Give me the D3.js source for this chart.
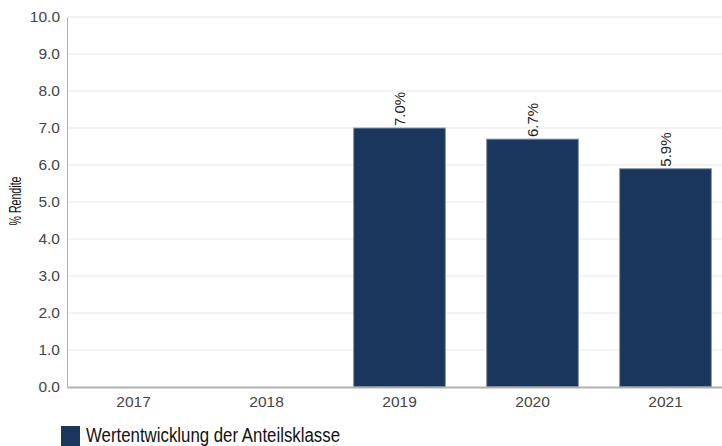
<!DOCTYPE html>
<html>
<head>
<meta charset="utf-8">
<script src="https://cdn.jsdelivr.net/npm/d3@7"></script>
<style>
  body { margin: 0; background: #fff; }
  svg { display: block; }
  text { font-family: "Liberation Sans", Arial, sans-serif; }
</style>
</head>
<body>
<svg id="chart" width="722" height="446"></svg>
<script>
var years = ["2017", "2018", "2019", "2020", "2021"];
var rendite = [null, null, 7.0, 6.7, 5.9];
var yTicks = [0, 1, 2, 3, 4, 5, 6, 7, 8, 9, 10];
var seriesName = "Wertentwicklung der Anteilsklasse";

var svg = d3.select("#chart"),
    plotLeft = 67, plotRight = 732, plotTop = 17, plotBottom = 387;

var x = d3.scaleBand().domain(years).range([plotLeft, plotRight]).paddingInner(0.31).paddingOuter(0.155);
var y = d3.scaleLinear().domain([0, 10]).range([plotBottom, plotTop]);

// grid
svg.append("g").selectAll("line")
   .data(yTicks.slice(1))
   .enter().append("line")
   .attr("x1", plotLeft).attr("x2", plotRight)
   .attr("y1", function(d) { return y(d); })
   .attr("y2", function(d) { return y(d); })
   .attr("stroke", "#e8e8e8");

// y axis
var yAxis = svg.append("g")
   .attr("transform", "translate(" + plotLeft + ",0)")
   .call(d3.axisLeft(y).tickValues(yTicks).tickFormat(d3.format(".1f")).tickSize(0).tickPadding(7));
yAxis.select(".domain").attr("stroke", "#b0b0b0");
yAxis.selectAll("text")
   .style("font-family", "'Liberation Sans', Arial, sans-serif")
   .style("font-size", "15.5px")
   .attr("fill", "#444");

// bars
var data = years.map(function(d, i) { return { year: d, value: rendite[i] }; })
                .filter(function(d) { return d.value != null; });

svg.append("g").selectAll("rect")
   .data(data)
   .enter().append("rect")
   .attr("x", function(d) { return x(d.year); })
   .attr("y", function(d) { return y(d.value); })
   .attr("width", x.bandwidth())
   .attr("height", function(d) { return y(0) - y(d.value); })
   .attr("fill", "#1b365d")
   .attr("stroke", "#8a97aa")
   .attr("stroke-width", 1);

// value labels
svg.append("g").selectAll("text")
   .data(data)
   .enter().append("text")
   .attr("transform", function(d) {
       return "translate(" + (x(d.year) + x.bandwidth() / 2 + 5) + "," + (y(d.value) - 2) + ") rotate(-90)";
   })
   .style("font-size", "15px")
   .attr("fill", "#222")
   .text(function(d) { return d.value.toFixed(1) + "%"; });

// x axis
var xAxis = svg.append("g")
   .attr("transform", "translate(0," + plotBottom + ")")
   .call(d3.axisBottom(x).tickSize(0).tickPadding(9));
xAxis.select(".domain").attr("stroke", "#b0b0b0").attr("stroke-width", 2);
xAxis.selectAll("text")
   .style("font-family", "'Liberation Sans', Arial, sans-serif")
   .style("font-size", "15.5px")
   .attr("fill", "#444");

// y label (condensed)
svg.append("text")
   .attr("transform", "translate(21,201) rotate(-90)")
   .attr("text-anchor", "middle")
   .style("font-size", "16px")
   .attr("textLength", 49)
   .attr("lengthAdjust", "spacingAndGlyphs")
   .attr("fill", "#111")
   .text("% Rendite");

// legend
svg.append("rect")
   .attr("x", 61).attr("y", 426).attr("width", 19).attr("height", 20)
   .attr("fill", "#1b365d");
svg.append("text")
   .attr("x", 86).attr("y", 442)
   .style("font-size", "20px")
   .attr("textLength", 254)
   .attr("lengthAdjust", "spacingAndGlyphs")
   .attr("fill", "#111")
   .text(seriesName);
</script>
</body>
</html>
